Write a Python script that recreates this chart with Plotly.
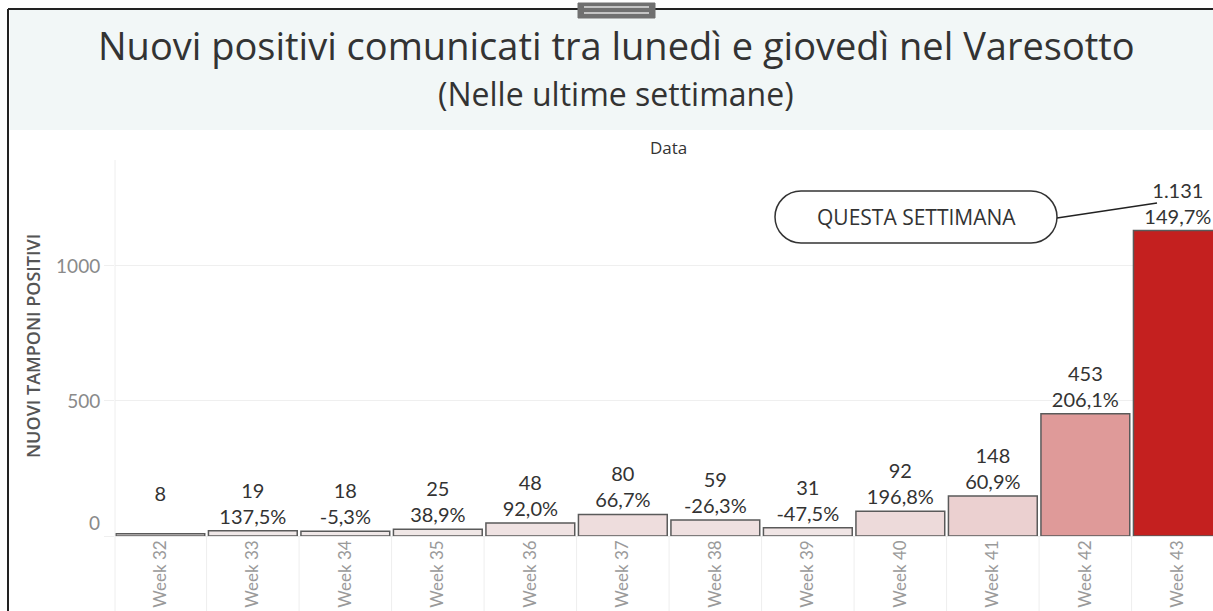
import plotly.graph_objects as go

weeks = ["Week 32", "Week 33", "Week 34", "Week 35", "Week 36", "Week 37",
         "Week 38", "Week 39", "Week 40", "Week 41", "Week 42", "Week 43"]
values = [8, 19, 18, 25, 48, 80, 59, 31, 92, 148, 453, 1131]
pct_change = [None, 137.5, -5.3, 38.9, 92.0, 66.7, -26.3, -47.5, 196.8, 60.9, 206.1, 149.7]
y_ticks = [0, 500, 1000]

def it_int(v):
    return f"{v:,}".replace(",", ".")

def it_pct(p):
    return f"{p:.1f}".replace(".", ",") + "%"

labels = [f"{it_int(v)}<br>\u00a0" if p is None else f"{it_int(v)}<br>{it_pct(p)}"
          for v, p in zip(values, pct_change)]

W, H = 1213, 611
L, R, T, B = 115, 1213, 160, 536

def px(x):
    return (x - L) / (R - L)

def py(y):
    return (B - y) / (B - T)

NUM = "Lato"
TXT = "Open Sans"

fig = go.Figure()
fig.add_trace(go.Bar(
    x=weeks, y=values, text=labels, textposition="outside",
    textfont=dict(family=NUM, size=20, color="#333333"),
    constraintext="none", cliponaxis=False, width=0.96,
    marker=dict(color=values, colorscale=[[0, "#f1ebeb"], [1, "#c4201f"]],
                cmin=0, cmax=max(values),
                line=dict(color="#5a5a5a", width=1.5)),
    hoverinfo="skip",
))

shapes = []
# title band
shapes.append(dict(type="rect", xref="paper", yref="paper", x0=px(10), x1=px(1213), y0=py(130), y1=py(10),
                   fillcolor="#f2f7f7", line=dict(width=0), layer="below"))
# frame
shapes.append(dict(type="line", xref="paper", yref="paper", x0=px(8), x1=px(8), y0=py(9), y1=py(611),
                   line=dict(color="#222222", width=2)))
shapes.append(dict(type="line", xref="paper", yref="paper", x0=px(8), x1=px(1213), y0=py(9), y1=py(9),
                   line=dict(color="#222222", width=2)))
# handle
shapes.append(dict(type="rect", xref="paper", yref="paper", x0=px(578), x1=px(655), y0=py(18), y1=py(3),
                   fillcolor="#707070", line=dict(color="#707070", width=1)))
for yy in (7, 13):
    shapes.append(dict(type="line", xref="paper", yref="paper", x0=px(584), x1=px(649), y0=py(yy), y1=py(yy),
                       line=dict(color="#e0e0e0", width=1.5)))
# y axis line
shapes.append(dict(type="line", xref="paper", yref="paper", x0=0, x1=0, y0=1, y1=py(611),
                   line=dict(color="#eeeeee", width=1)))
# category dividers below axis
for i in range(len(weeks) - 1):
    shapes.append(dict(type="line", xref="x", yref="paper", x0=i + 0.5, x1=i + 0.5, y0=0, y1=py(611),
                       line=dict(color="#eeeeee", width=1)))
# pill annotation
x0, x1, y0, y1 = 775, 1057, 191, 243
r = (y1 - y0) / 2
k = 0.5523 * r
pts = [
    f"M {px(x0 + r)},{py(y0)}",
    f"L {px(x1 - r)},{py(y0)}",
    f"C {px(x1 - r + k)},{py(y0)} {px(x1)},{py(y0 + r - k)} {px(x1)},{py(y0 + r)}",
    f"C {px(x1)},{py(y0 + r + k)} {px(x1 - r + k)},{py(y1)} {px(x1 - r)},{py(y1)}",
    f"L {px(x0 + r)},{py(y1)}",
    f"C {px(x0 + r - k)},{py(y1)} {px(x0)},{py(y0 + r + k)} {px(x0)},{py(y0 + r)}",
    f"C {px(x0)},{py(y0 + r - k)} {px(x0 + r - k)},{py(y0)} {px(x0 + r)},{py(y0)}",
    "Z",
]
shapes.append(dict(type="path", xref="paper", yref="paper", path=" ".join(pts),
                   fillcolor="white", line=dict(color="#333333", width=1.5)))
shapes.append(dict(type="line", xref="paper", yref="paper", x0=px(1057), x1=px(1157), y0=py(218), y1=py(203),
                   line=dict(color="#222222", width=1.5)))

annotations = [
    dict(text="Nuovi positivi comunicati tra lunedì e giovedì nel Varesotto", xref="paper", yref="paper",
         x=px(616), y=py(45), showarrow=False, xanchor="center", yanchor="middle",
         font=dict(family=TXT, size=38, color="#333333")),
    dict(text="(Nelle ultime settimane)", xref="paper", yref="paper",
         x=px(616), y=py(93), showarrow=False, xanchor="center", yanchor="middle",
         font=dict(family=TXT, size=32, color="#333333")),
    dict(text="Data", xref="paper", yref="paper", x=px(668), y=py(147), showarrow=False,
         xanchor="center", yanchor="middle", font=dict(family=TXT, size=17, color="#333333")),
    dict(text="NUOVI TAMPONI POSITIVI", xref="paper", yref="paper", x=px(33), y=py(346), showarrow=False,
         textangle=-90, xanchor="center", yanchor="middle",
         font=dict(family=TXT, size=18, color="#555555", weight=600)),
    dict(text="QUESTA SETTIMANA", xref="paper", yref="paper", x=px(916), y=py(217), showarrow=False,
         xanchor="center", yanchor="middle", font=dict(family=TXT, size=21, color="#333333", weight=500)),
    dict(text=str(y_ticks[0]), xref="paper", yref="paper", x=px(102), y=py(522), showarrow=False,
         xanchor="right", yanchor="middle", font=dict(family=NUM, size=19, color="#8a8a8a")),
]

fig.update_layout(
    width=W, height=H,
    margin=dict(l=L, r=W - R, t=T, b=H - B, pad=0),
    paper_bgcolor="white", plot_bgcolor="white",
    showlegend=False, bargap=0.04,
    shapes=shapes, annotations=annotations,
    font=dict(family=NUM),
    xaxis=dict(type="category", range=[-0.49, 11.38], tickangle=-90, showgrid=False,
               showline=False, zeroline=False, ticks="", automargin=False,
               tickfont=dict(family=NUM, size=17, color="#9a9a9a")),
    yaxis=dict(range=[0, 1392], tickvals=y_ticks, ticktext=[""] + [str(v) for v in y_ticks[1:]],
               showgrid=True, gridcolor="#efefef", gridwidth=1, zeroline=True,
               zerolinecolor="#e6e6e6", zerolinewidth=1, showline=False,
               ticks="outside", ticklen=10, tickcolor="#efefef", automargin=False,
               tickfont=dict(family=NUM, size=19, color="#8a8a8a")),
)

fig.write_html("out.html", config={"displayModeBar": False},
               post_script="document.body.style.margin='0';document.body.style.overflow='hidden';")
